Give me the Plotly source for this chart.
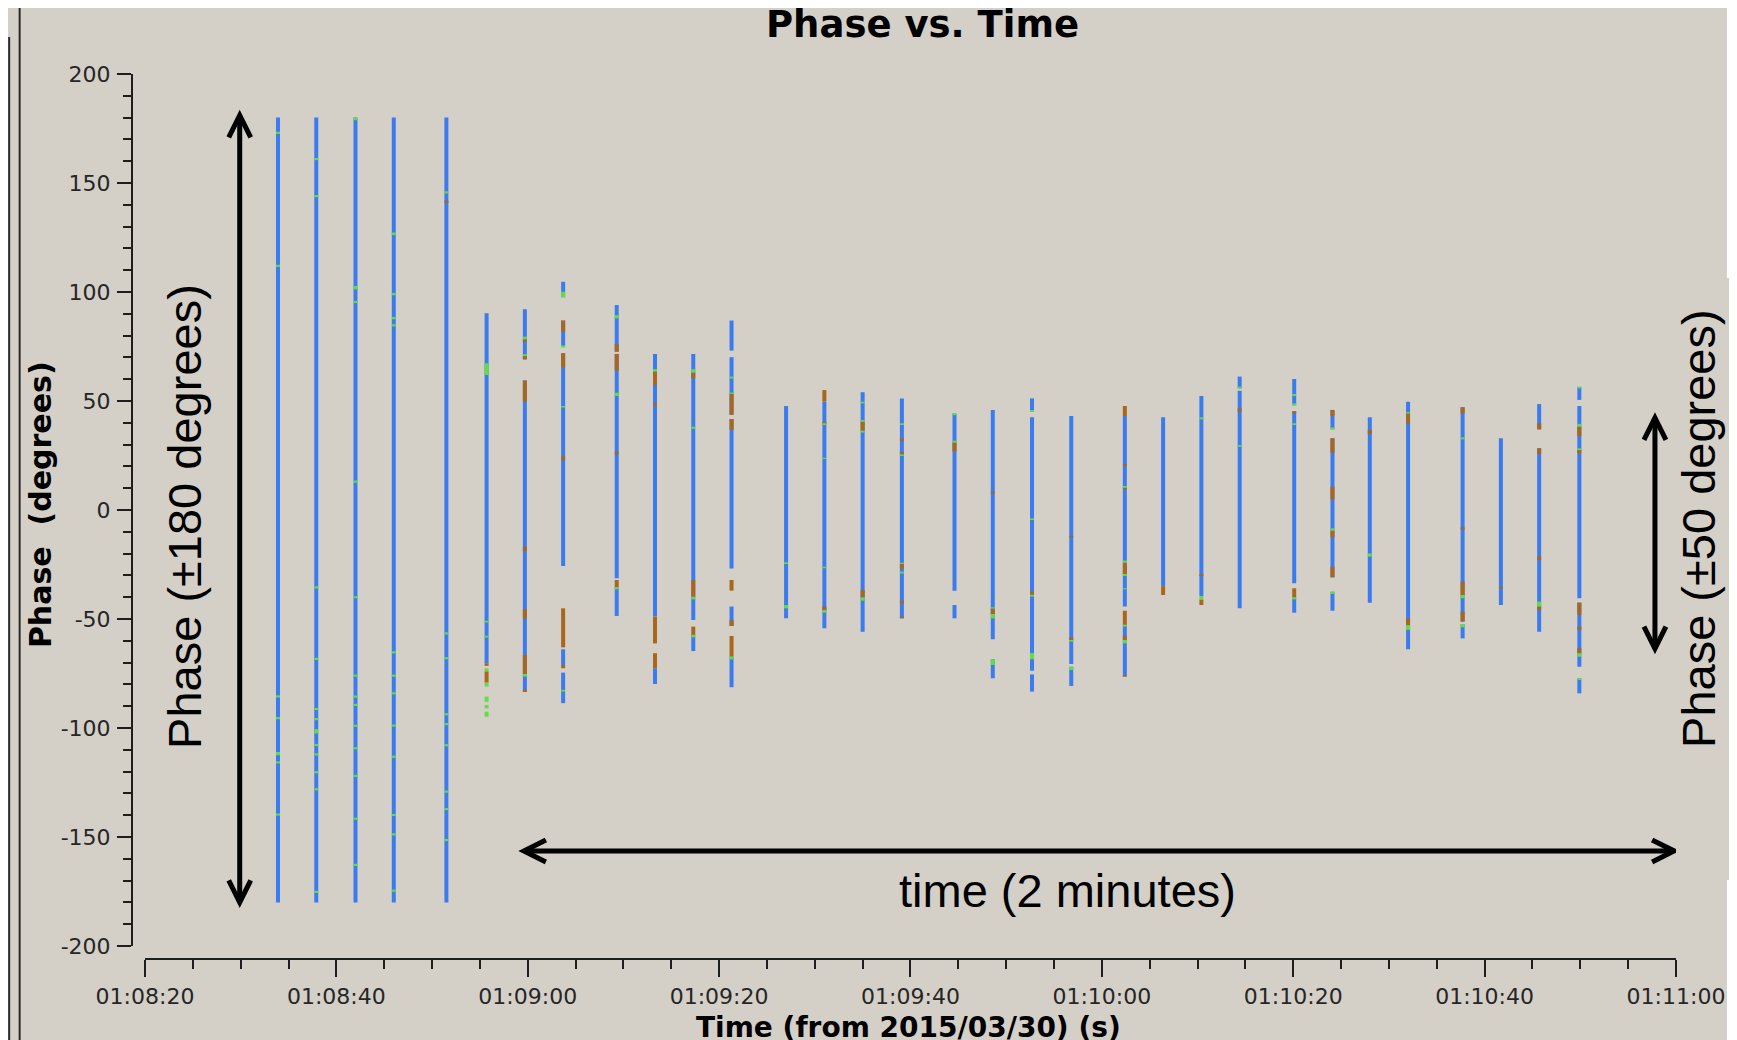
import datetime as dt
import plotly.graph_objects as go

# ---------------- data ----------------
DATE = "2015-03-30"
x_start = "01:08:20"
x_end = "01:11:00"
y_min, y_max = -200, 200
y_tickvals = [-200, -150, -100, -50, 0, 50, 100, 150, 200]
y_ticktext = ["-200", "-150", "-100", "-50", "0", "50", "100", "150", "200"]

times = ["01:08:33.9", "01:08:37.9", "01:08:42.0", "01:08:46.0",
         "01:08:51.5", "01:08:55.7", "01:08:59.7", "01:09:03.7",
         "01:09:09.3", "01:09:13.3", "01:09:17.3", "01:09:21.3",
         "01:09:27.0", "01:09:31.0", "01:09:35.0", "01:09:39.1",
         "01:09:44.6", "01:09:48.6", "01:09:52.7", "01:09:56.8",
         "01:10:02.4", "01:10:06.4", "01:10:10.4", "01:10:14.4",
         "01:10:20.1", "01:10:24.1", "01:10:28.0", "01:10:32.0",
         "01:10:37.7", "01:10:41.7", "01:10:45.7", "01:10:49.9"]

# phase ranges [high, low] in degrees, per time stamp
blue_ranges = [
    [[180, -180]], [[180, -180]], [[180, -180]], [[180, -180]], [[180, -180]],
    [[90.2, -70.3]],
    [[92.1, 69.1], [59.4, -83.5]],
    [[104.7, 97.6], [86.9, 75.0], [71.9, -25.7], [-63.9, -71.1], [-74.6, -88.6]],
    [[94.0, 72.6], [71.6, -31.3], [-35.4, -48.6]],
    [[71.6, -48.9], [-72.6, -79.8]],
    [[71.6, -50.5], [-57.3, -64.7]],
    [[86.9, 73.1], [70.1, 43.7], [41.7, -26.8], [-44.3, -53.2], [-67.3, -81.3]],
    [[47.7, -49.7]],
    [[49.7, -54.3]],
    [[54.0, -55.8]],
    [[51.2, -49.7]],
    [[44.3, -37.0], [-43.6, -49.7]],
    [[45.9, -59.3], [-68.5, -77.2]],
    [[51.2, 45.1], [42.5, -73.7], [-75.4, -83.3]],
    [[43.1, -70.6], [-71.9, -80.7]],
    [[43.1, -44.3], [-52.7, -76.4]],
    [[42.5, -34.9]],
    [[52.3, -39.4]],
    [[61.2, 55.7], [54.7, -45.1]],
    [[60.1, 48.0], [45.3, -33.6], [-40.1, -47.1]],
    [[45.9, 37.0], [32.9, -30.9], [-37.5, -46.2]],
    [[42.5, -42.5]],
    [[49.7, -63.9]],
    [[47.1, -51.2], [-52.3, -58.9]],
    [[32.9, -43.6]],
    [[48.6, 37.0], [28.3, -55.8]],
    [[56.5, 50.5], [47.7, -40.5], [-42.5, -71.9], [-77.2, -84.1]],
]

brown_ranges = [
    [], [], [], [], [[141.9, 140.9]],
    [[-70.3, -71.5], [-74.0, -79.2]],
    [[78.3, 77.2], [70.6, 69.1], [59.4, 49.7], [-16.8, -18.8], [-45.5, -49.7], [-66.5, -75.2], [-82.5, -83.5]],
    [[86.9, 81.8], [71.9, 65.4], [24.6, 22.9], [-45.1, -63.0], [-71.1, -72.6]],
    [[76.1, 72.6], [71.6, 63.9], [26.8, 25.7], [-32.1, -35.4]],
    [[63.5, 57.3], [48.9, 47.7], [-48.9, -61.2], [-65.7, -72.6]],
    [[63.0, 60.4], [-32.1, -39.8], [-53.5, -57.3]],
    [[53.3, 43.7], [41.7, 36.8], [-32.1, -37.0], [-50.5, -53.2], [-57.8, -67.3]],
    [],
    [[55.0, 49.7], [40.5, 39.5], [-44.3, -45.9]],
    [[40.5, 36.4], [-36.7, -40.1]],
    [[32.9, 31.8], [26.5, 25.5], [-24.8, -26.8], [-41.6, -42.8], [-48.9, -49.7]],
    [[30.9, 26.8]],
    [[8.4, 7.6], [-45.2, -47.7]],
    [[-37.4, -38.9]],
    [[-11.9, -12.5], [-58.5, -59.6]],
    [[47.7, 43.1], [21.1, 20.2], [10.2, 9.5], [-24.2, -29.4], [-46.2, -52.7], [-57.8, -59.6], [-75.7, -76.4]],
    [[-34.9, -39.0]],
    [[-29.4, -30.3], [-41.0, -43.6]],
    [[46.6, 45.1]],
    [[45.3, 44.3], [-35.9, -40.1]],
    [[45.9, 43.1], [32.9, 26.3], [10.7, 4.9], [-9.5, -12.5], [-26.0, -30.9]],
    [[36.7, 34.9]],
    [[44.3, 39.8], [-49.7, -52.8]],
    [[47.1, 44.3], [-8.0, -8.9], [-32.9, -39.0], [-46.6, -51.2]],
    [[-35.2, -36.0]],
    [[39.8, 37.0], [28.3, 25.7], [-21.4, -22.9], [-44.3, -45.9]],
    [[38.2, 33.9], [27.5, 26.0], [-42.5, -48.1], [-53.5, -55.0], [-63.4, -65.7]],
]

green_ranges = [
    [[173.5, 172.5], [112.5, 111.5], [-85.0, -86.0], [-95.0, -96.0], [-111.0, -112.5], [-115.3, -116.3], [-139.2, -140.2]],
    [[161.5, 160.5], [144.5, 143.5], [-35.0, -36.0], [-67.8, -68.8], [-90.8, -91.8], [-95.4, -96.4], [-100.5, -102.5],
     [-107.3, -108.3], [-111.6, -112.6], [-119.8, -120.8], [-127.6, -128.6], [-174.7, -175.7]],
    [[180.0, 178.8], [102.8, 101.2], [95.9, 94.9], [13.5, 12.5], [-39.5, -40.5], [-75.5, -76.5], [-85.1, -86.1],
     [-88.9, -89.9], [-98.5, -99.5], [-108.8, -109.8], [-121.5, -122.5], [-141.1, -142.1], [-162.3, -163.3]],
    [[127.3, 126.1], [99.5, 98.5], [88.5, 87.5], [85.2, 84.2], [-64.8, -65.8], [-75.5, -76.5], [-83.6, -84.6],
     [-98.4, -99.4], [-112.7, -113.7], [-139.4, -140.4], [-148.3, -149.3], [-174.1, -175.1]],
    [[146.2, 145.2], [-56.1, -57.1], [-67.5, -68.5], [-93.2, -94.2], [-97.7, -98.7], [-107.4, -108.4],
     [-128.7, -129.7], [-136.7, -137.7], [-150.9, -151.9]],
    [[67.3, 61.9], [-50.8, -51.6], [-57.7, -58.5], [-72.6, -74.0], [-79.2, -81.0], [-85.6, -88.0], [-89.5, -91.0], [-92.5, -94.8]],
    [[79.5, 78.3], [71.5, 70.6], [-75.2, -76.4]],
    [[100.1, 97.6], [75.5, 74.5], [47.7, 47.0], [-82.5, -83.3]],
    [[89.4, 87.9], [53.8, 52.3], [-35.4, -36.4]],
    [[64.6, 63.5]],
    [[64.6, 63.0], [38.2, 37.2], [-39.8, -41.0], [-57.3, -58.4]],
    [[61.2, 60.3], [53.9, 53.3], [-67.3, -68.5]],
    [[-24.0, -24.8], [-43.6, -45.1]],
    [[39.8, 39.0], [24.0, 23.4], [-26.0, -26.7], [-45.9, -47.1]],
    [[49.7, 48.9], [41.3, 40.5], [36.4, 35.5], [-40.1, -41.6]],
    [[39.8, 39.0], [25.5, 24.8], [-24.2, -24.8], [-28.3, -29.1]],
    [[44.3, 43.5], [31.8, 30.9]],
    [[-44.6, -45.2], [-47.7, -49.7], [-68.5, -71.1]],
    [[45.9, 45.1], [-3.8, -4.6], [-38.9, -39.7], [-65.6, -68.5]],
    [[-59.6, -60.4], [-71.9, -73.4]],
    [[11.0, 10.2], [-23.2, -24.2], [-29.4, -30.3], [-35.9, -36.4], [-52.7, -53.5], [-59.6, -61.2]],
    [],
    [[42.5, 41.6], [-39.4, -41.0]],
    [[56.6, 55.7], [29.8, 29.0]],
    [[53.2, 52.3], [48.9, 48.0], [39.8, 39.0], [-40.1, -41.0]],
    [[37.9, 37.0], [-8.4, -9.5], [-37.5, -38.5]],
    [[-19.9, -21.4]],
    [[44.9, 44.3], [-52.8, -55.0]],
    [[33.3, 32.4], [-39.0, -40.5], [-52.3, -53.8]],
    [],
    [[-42.0, -44.3]],
    [[56.5, 55.8], [39.5, 38.2], [28.3, 27.5], [-65.7, -67.3], [-77.2, -78.0]],
]

# annotation arrows (time in s after 01:08:20, phase in degrees)
arrow_phase180 = {"t": 9.9, "p0": 181, "p1": -180}
arrow_time = {"p": -156.4, "t0": 39.6, "t1": 159.8}
arrow_phase50 = {"t": 157.8, "p0": 42.3, "p1": -63.6}

# ---------------- colours / layout ----------------
BG = "#d4d0c8"
BLUE = "#3a7bef"
GREEN = "#62dd48"
BROWN = "#a9661d"
AX = "#1e1e1e"

PAGE = 8                       # browser body margin around the plot div
W, H = 1737 - PAGE, 1040 - PAGE
L, R, T, B = 124, 59, 66, 81
PW = W - L - R
PH = H - T - B
XOFF = 13  # px gap between y-axis line and start of x-axis
YOFF = 13  # px gap between x-axis line and bottom of y-axis


def ts(t):
    return f"{DATE} {t}"


def seg_xy(ranges):
    xs, ys = [], []
    for t, segs in zip(times, ranges):
        for hi, lo in segs:
            xs += [ts(t), ts(t), None]
            ys += [hi, lo, None]
    return xs, ys


fig = go.Figure()
for ranges, col in [(blue_ranges, BLUE), (brown_ranges, BROWN), (green_ranges, GREEN)]:
    xs, ys = seg_xy(ranges)
    fig.add_trace(go.Scatter(x=xs, y=ys, mode="lines", line=dict(color=col, width=4),
                             hoverinfo="skip", showlegend=False, connectgaps=False))

tick_font = dict(family="DejaVu Sans, sans-serif", size=22, color="#262626")

fig.update_layout(
    width=W, height=H,
    margin=dict(l=L, r=R, t=T, b=B, pad=0),
    paper_bgcolor=BG, plot_bgcolor=BG,
    showlegend=False,
    xaxis=dict(
        type="date", range=[ts(x_start), ts(x_end)],
        domain=[XOFF / PW, 1], anchor="free", position=0,
        showline=True, linecolor=AX, linewidth=2,
        ticks="outside", ticklen=17, tickwidth=2, tickcolor=AX,
        tick0=ts(x_start), dtick=20000, tickformat="%H:%M:%S",
        minor=dict(dtick=5000, ticks="outside", ticklen=9, tickwidth=2, tickcolor=AX, showgrid=False),
        showgrid=False, zeroline=False, tickfont=tick_font, ticklabelstandoff=1,
    ),
    yaxis=dict(
        range=[y_min, y_max],
        domain=[YOFF / PH, 1], anchor="free", position=0,
        showline=True, linecolor=AX, linewidth=2,
        ticks="outside", ticklen=14, tickwidth=2, tickcolor=AX,
        tickmode="array", tickvals=y_tickvals, ticktext=y_ticktext,
        minor=dict(dtick=10, tick0=0, ticks="outside", ticklen=8, tickwidth=2, tickcolor=AX, showgrid=False),
        showgrid=False, zeroline=False, tickfont=tick_font, ticklabelstandoff=2,
    ),
)


def px_x(px):
    """page pixel x -> paper coordinate"""
    return (px - PAGE - L) / PW


def px_y(py):
    """page pixel y -> paper coordinate"""
    return (H - B - (py - PAGE)) / PH


bold = "DejaVu Sans, sans-serif"
helv = "Liberation Sans, Arial, sans-serif"
annos = [
    dict(text="<b>Phase vs. Time</b>", x=px_x(924), y=px_y(25), font=dict(family=bold, size=37, color="#000")),
    dict(text="<b>Phase  (degrees)</b>", x=px_x(40), y=px_y(505), textangle=-90,
         font=dict(family=bold, size=30, color="#000")),
    dict(text="<b>Time (from 2015/03/30) (s)</b>", x=px_x(910), y=px_y(1027),
         font=dict(family=bold, size=28, color="#000")),
    dict(text="Phase (±180 degrees)", x=px_x(184), y=px_y(516), textangle=-90,
         font=dict(family=helv, size=47, color="#000")),
    dict(text="time (2 minutes)", x=px_x(1069), y=px_y(890), font=dict(family=helv, size=47, color="#000")),
    dict(text="Phase (±50 degrees)", x=px_x(1700), y=px_y(528), textangle=-90,
         font=dict(family=helv, size=47, color="#000")),
]
for a in annos:
    a.update(xref="paper", yref="paper", showarrow=False, xanchor="center", yanchor="middle")
fig.update_layout(annotations=annos)

# ---- arrows drawn in data coordinates ----
base = dt.datetime(2015, 3, 30, 1, 8, 20)
SEC_PER_PX = 160.0 / (PW - XOFF)
DEG_PER_PX = 400.0 / (PH - YOFF)
HEAD_LEN, HEAD_HW = 22, 11


def tstr(s):
    return (base + dt.timedelta(seconds=s)).strftime("%Y-%m-%d_%H:%M:%S.%f")


def P(s, p):
    return f"{tstr(s)},{p}"


shapes = []
arrow_line = dict(color="#000", width=5)


def vert_arrow(t, p0, p1):
    shapes.append(dict(type="path", xref="x", yref="y", line=arrow_line,
                       path=f"M {P(t, p0)} L {P(t, p1)}"))
    for tip, sgn in [(p0, -1), (p1, 1)]:
        back = tip + sgn * HEAD_LEN * DEG_PER_PX
        hw = HEAD_HW * SEC_PER_PX
        shapes.append(dict(type="path", xref="x", yref="y", line=arrow_line,
                           path=f"M {P(t - hw, back)} L {P(t, tip)} L {P(t + hw, back)}"))


def horiz_arrow(p, t0, t1):
    shapes.append(dict(type="path", xref="x", yref="y", line=arrow_line,
                       path=f"M {P(t0, p)} L {P(t1, p)}"))
    for tip, sgn in [(t0, 1), (t1, -1)]:
        back = tip + sgn * HEAD_LEN * SEC_PER_PX
        hw = HEAD_HW * DEG_PER_PX
        shapes.append(dict(type="path", xref="x", yref="y", line=arrow_line,
                           path=f"M {P(back, p + hw)} L {P(tip, p)} L {P(back, p - hw)}"))


vert_arrow(arrow_phase180["t"], arrow_phase180["p0"], arrow_phase180["p1"])
horiz_arrow(arrow_time["p"], arrow_time["t0"], arrow_time["t1"])
vert_arrow(arrow_phase50["t"], arrow_phase50["p0"], arrow_phase50["p1"])

# ---- window frame decorations (paper coords, page pixels) ----
frame = [
    dict(type="line", x0=px_x(19.5), x1=px_x(19.5), y0=px_y(8), y1=px_y(1040), line=dict(color="#2a2a2a", width=2)),
    dict(type="line", x0=px_x(9), x1=px_x(9), y0=px_y(37), y1=px_y(1040), line=dict(color="#2a2a2a", width=2)),
    dict(type="line", x0=px_x(1730), x1=px_x(1730), y0=px_y(8), y1=px_y(278), line=dict(color="#ffffff", width=2)),
    dict(type="line", x0=px_x(1730), x1=px_x(1730), y0=px_y(880), y1=px_y(1040), line=dict(color="#ffffff", width=2)),
]
for f in frame:
    f.update(xref="paper", yref="paper", layer="above")
fig.update_layout(shapes=frame + shapes)

fig.write_html("out.html")
